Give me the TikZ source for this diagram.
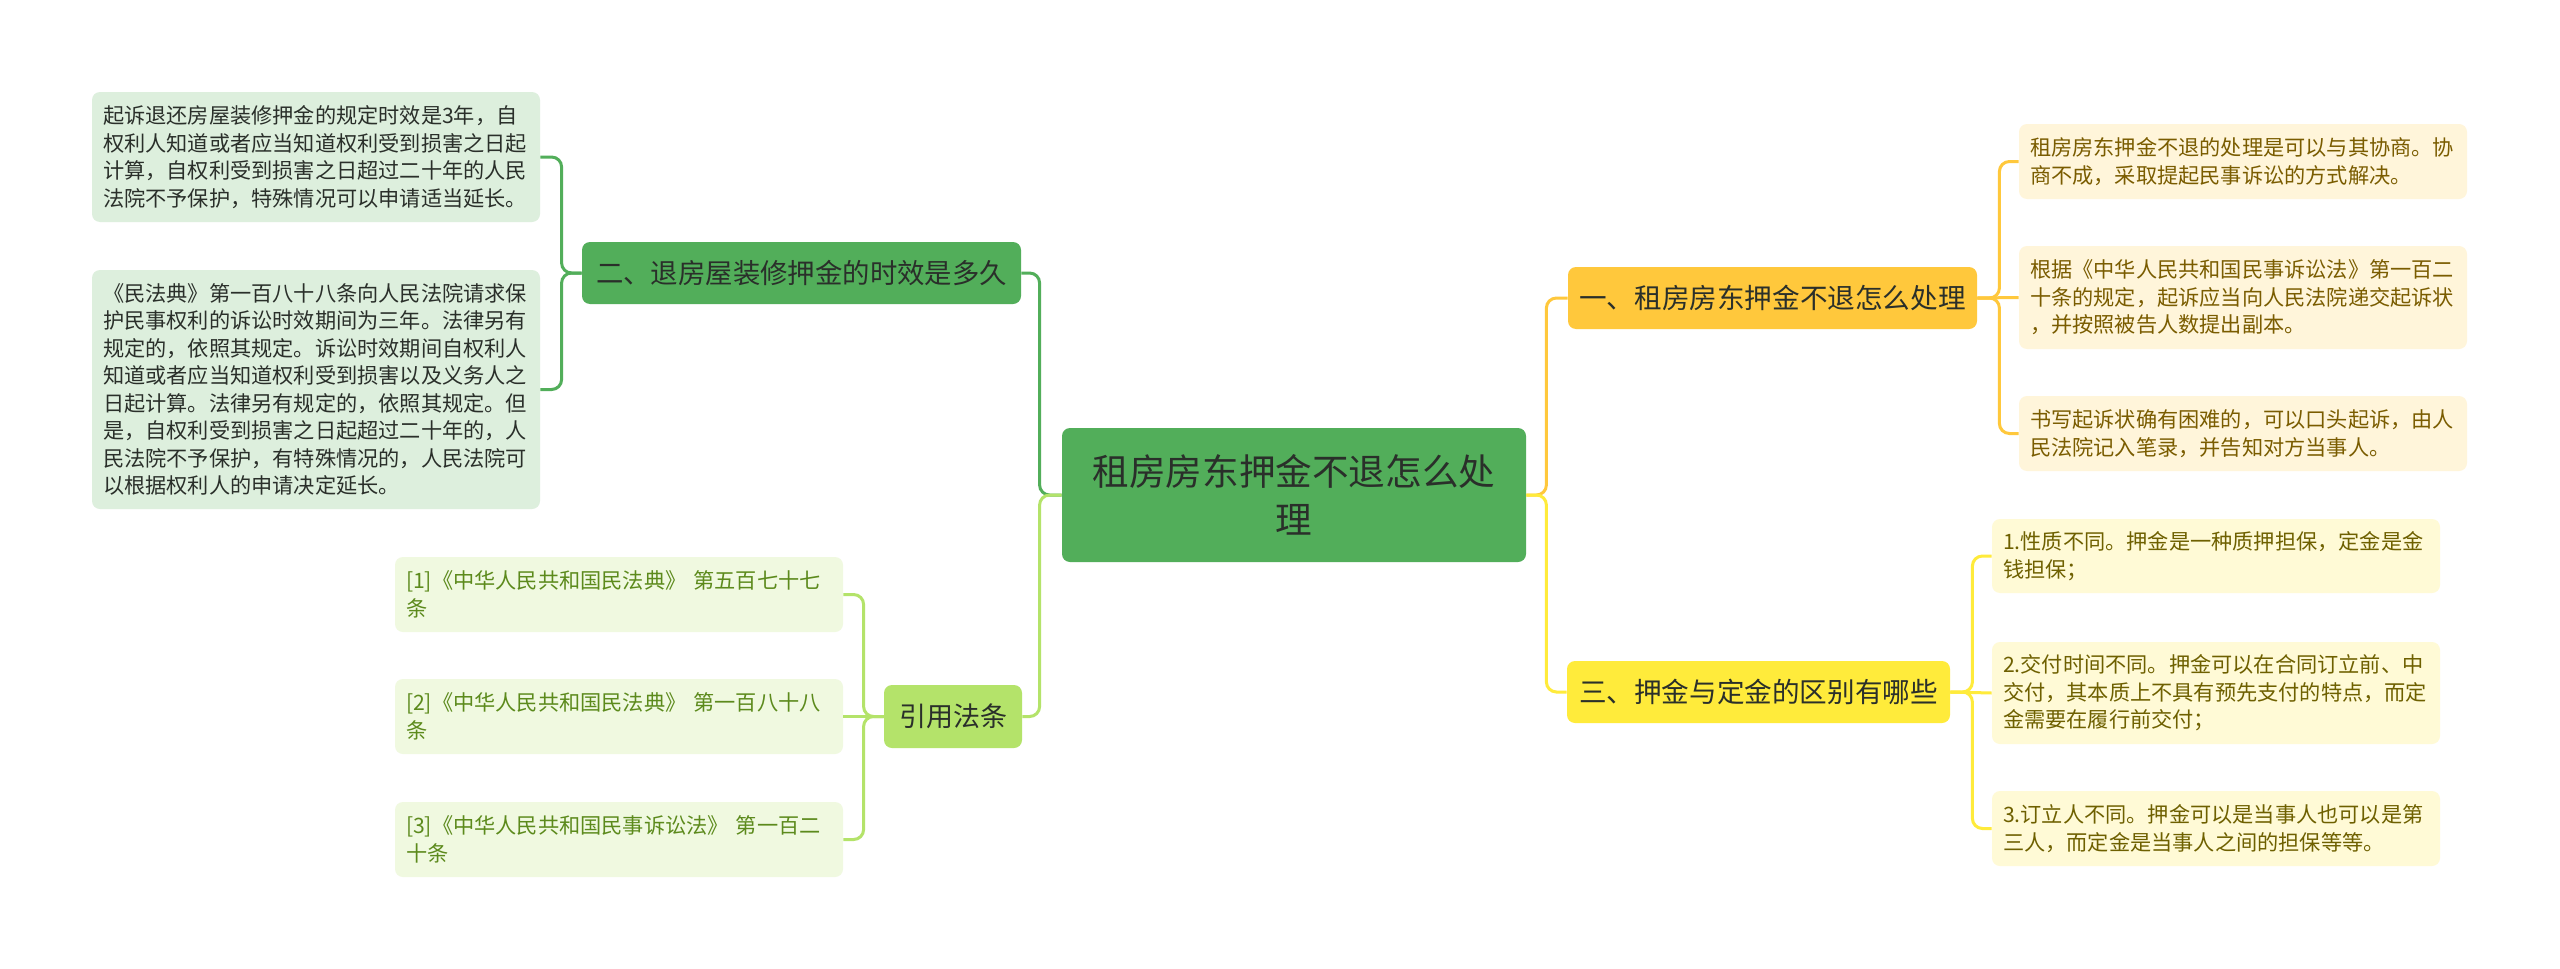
\documentclass[tikz,border=0pt]{standalone}
\usepackage{fontspec}
\setmainfont{Noto Sans CJK SC}
\definecolor{cGreen}{HTML}{52AE5A}
\definecolor{cLight}{HTML}{B4E36A}
\definecolor{cAmber}{HTML}{FFC83C}
\definecolor{cYellow}{HTML}{FFEB3B}
\definecolor{fLeafG}{HTML}{DDEFDD}
\definecolor{fLeafL}{HTML}{F0F9E0}
\definecolor{fLeafA}{HTML}{FFF5DA}
\definecolor{fLeafY}{HTML}{FFFAD6}
\definecolor{tDark}{HTML}{2A2F2A}
\definecolor{tOlive}{HTML}{5C8A1C}
\definecolor{tBrown}{HTML}{7A5C00}
\definecolor{tYel}{HTML}{6E6000}
\tikzset{
  box/.style={rounded corners=4pt, inner xsep=5.5pt, inner ysep=0pt, anchor=center},
  leaf/.style={box, minimum width=224pt, text width=213pt, align=left,
    font=\fontsize{10.6pt}{13.75pt}\selectfont},
  branch/.style={box, minimum height=31pt, align=center},
  conn/.style={line width=1.5pt, rounded corners=5pt},
}
\begin{document}
\begin{tikzpicture}[x=0.5pt,y=-0.5pt]
\useasboundingbox[fill=white] (0,0) rectangle (2560,969);

% central
\node[box, fill=cGreen, text=tDark, minimum width=232pt, minimum height=67pt, align=center,
  font=\fontsize{18.3pt}{24pt}\selectfont] (c) at (1294,495) {租房房东押金不退怎么处\\理};

% branches
\node[branch, fill=cGreen, text=tDark, minimum width=219.5pt, font=\fontsize{13.7pt}{16pt}\selectfont]
  (b2) at (801.5,273) {二、退房屋装修押金的时效是多久};
\node[branch, fill=cLight, text=tDark, minimum width=69pt, minimum height=31.5pt, font=\fontsize{13.5pt}{16pt}\selectfont]
  (b4) at (953,716.5) {引用法条};
\node[branch, fill=cAmber, text=tDark, minimum width=204.5pt, font=\fontsize{13.8pt}{16pt}\selectfont]
  (b1) at (1772.5,298) {一、租房房东押金不退怎么处理};
\node[branch, fill=cYellow, text=tDark, minimum width=191.5pt, font=\fontsize{13.8pt}{16pt}\selectfont]
  (b3) at (1758.5,692) {三、押金与定金的区别有哪些};

% left leaves (二)
\node[leaf, fill=fLeafG, text=tDark, minimum height=65pt] (l1) at (316,157)
 {起诉退还房屋装修押金的规定时效是3年，自\\权利人知道或者应当知道权利受到损害之日起\\计算，自权利受到损害之日超过二十年的人民\\法院不予保护，特殊情况可以申请适当延长。};
\node[leaf, fill=fLeafG, text=tDark, minimum height=119.5pt] (l2) at (316,389.5)
 {《民法典》第一百八十八条向人民法院请求保\\护民事权利的诉讼时效期间为三年。法律另有\\规定的，依照其规定。诉讼时效期间自权利人\\知道或者应当知道权利受到损害以及义务人之\\日起计算。法律另有规定的，依照其规定。但\\是，自权利受到损害之日起超过二十年的，人\\民法院不予保护，有特殊情况的，人民法院可\\以根据权利人的申请决定延长。};

% citation leaves
\node[leaf, fill=fLeafL, text=tOlive, minimum height=37.5pt] (r1) at (619,594.5)
 {[1]《中华人民共和国民法典》 第五百七十七\\条};
\node[leaf, fill=fLeafL, text=tOlive, minimum height=37.5pt] (r2) at (619,716.5)
 {[2]《中华人民共和国民法典》 第一百八十八\\条};
\node[leaf, fill=fLeafL, text=tOlive, minimum height=37.5pt] (r3) at (619,839.5)
 {[3]《中华人民共和国民事诉讼法》 第一百二\\十条};

% right leaves (一)
\node[leaf, fill=fLeafA, text=tBrown, minimum height=37.5pt] (a1) at (2243,161.5)
 {租房房东押金不退的处理是可以与其协商。协\\商不成，采取提起民事诉讼的方式解决。};
\node[leaf, fill=fLeafA, text=tBrown, minimum height=51.5pt] (a2) at (2243,297.5)
 {根据《中华人民共和国民事诉讼法》第一百二\\十条的规定，起诉应当向人民法院递交起诉状\\，并按照被告人数提出副本。};
\node[leaf, fill=fLeafA, text=tBrown, minimum height=37.5pt] (a3) at (2243,433.5)
 {书写起诉状确有困难的，可以口头起诉，由人\\民法院记入笔录，并告知对方当事人。};

% right leaves (三)
\node[leaf, fill=fLeafY, text=tYel, minimum height=37pt] (y1) at (2216,556)
 {1.性质不同。押金是一种质押担保，定金是金\\钱担保；};
\node[leaf, fill=fLeafY, text=tYel, minimum height=51pt] (y2) at (2216,693)
 {2.交付时间不同。押金可以在合同订立前、中\\交付，其本质上不具有预先支付的特点，而定\\金需要在履行前交付；};
\node[leaf, fill=fLeafY, text=tYel, minimum height=37.5pt] (y3) at (2216,828.5)
 {3.订立人不同。押金可以是当事人也可以是第\\三人，而定金是当事人之间的担保等等。};

% connectors central
\draw[conn, cGreen] (c.west) -- ++(-22,0) |- (b2.east);
\draw[conn, cLight] (c.west) -- ++(-22,0) |- (b4.east);
\draw[conn, cAmber] (c.east) -- ++(20,0) |- (b1.west);
\draw[conn, cYellow] (c.east) -- ++(20,0) |- (b3.west);

% connectors branches
\draw[conn, cGreen] (b2.west) -- ++(-20,0) |- (l1.east);
\draw[conn, cGreen] (b2.west) -- ++(-20,0) |- (l2.east);
\draw[conn, cLight] (b4.west) -- ++(-20,0) |- (r1.east);
\draw[conn, cLight] (b4.west) -- (r2.east);
\draw[conn, cLight] (b4.west) -- ++(-20,0) |- (r3.east);
\draw[conn, cAmber] (b1.east) -- ++(22,0) |- (a1.west);
\draw[conn, cAmber] (b1.east) -- (a2.west);
\draw[conn, cAmber] (b1.east) -- ++(22,0) |- (a3.west);
\draw[conn, cYellow] (b3.east) -- ++(22,0) |- (y1.west);
\draw[conn, cYellow] (b3.east) -- (y2.west);
\draw[conn, cYellow] (b3.east) -- ++(22,0) |- (y3.west);
\end{tikzpicture}
\end{document}
